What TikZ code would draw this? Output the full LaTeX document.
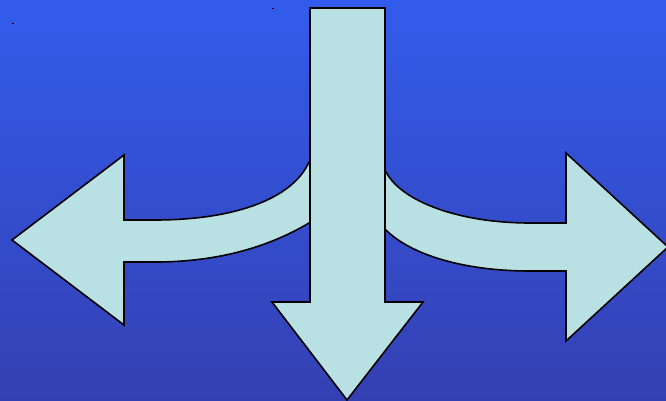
\documentclass[tikz,border=0pt]{standalone}
\definecolor{bgtop}{RGB}{51,92,236}
\definecolor{bgbot}{RGB}{52,64,178}
\definecolor{arrowfill}{RGB}{185,224,226}
\tikzset{
  arrowshape/.style={fill=arrowfill, draw=black, line width=1.6pt, line join=miter},
  speck/.style={fill=black}
}
\begin{document}
\begin{tikzpicture}[x=1pt,y=-1pt]
\useasboundingbox (0,0) rectangle (666,401);
\shade[top color=bgtop, bottom color=bgbot] (0,0) rectangle (666,401);
% specks
\fill[speck] (11.8,23) rectangle (13.8,24.5);
\fill[speck] (271.5,7.6) rectangle (273.5,9.1);
% left arrow
\draw[arrowshape] (12,240) -- (124,155) -- (124,220) -- (155,220)
  .. controls (232,220) and (292,200) .. (309,162) -- (335,162) -- (335,223) -- (309,223)
  .. controls (272,245) and (222,262) .. (155,262) -- (124,262) -- (124,325) -- cycle;
% right arrow
\draw[arrowshape] (668,247) -- (566,153) -- (566,223) -- (530,223)
  .. controls (460,223) and (402,202) .. (386,172) -- (360,172) -- (360,230) -- (386,230)
  .. controls (410,254) and (462,271) .. (530,271) -- (566,271) -- (566,341) -- cycle;
% down arrow
\draw[arrowshape] (310,8) -- (385,8) -- (385,302) -- (423,302) -- (347,400) -- (272,302) -- (310,302) -- cycle;
\end{tikzpicture}
\end{document}
